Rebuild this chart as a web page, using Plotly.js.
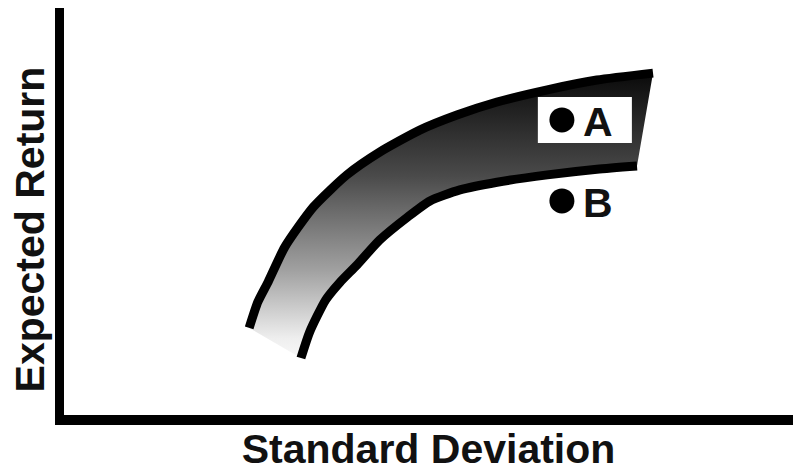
<!DOCTYPE html>
<html>
<head>
<meta charset="utf-8">
<script src="https://cdn.plot.ly/plotly-3.0.1.min.js"></script>
<style>html,body{margin:0;padding:0;background:#fff;}#chart{width:793px;height:472px;}</style>
</head>
<body>
<div id="chart"></div>
<script>
// Upper boundary of the band (standard deviation, expected return), arbitrary 0-100 units
const upperX = [25.4, 26.6, 28.0, 30.3, 34.2, 38.8, 43.3, 48.8, 53.9, 59.4, 66.3, 73.1, 80.8];
const upperY = [21.4, 27.8, 32.7, 41.3, 51.1, 59.0, 64.6, 70.0, 73.7, 76.9, 79.9, 82.3, 84.0];
// Lower boundary of the band
const lowerX = [32.5, 33.7, 35.9, 37.9, 40.2, 43.3, 47.1, 50.2, 54.3, 59.4, 66.3, 73.1, 78.6];
const lowerY = [14.0, 20.4, 28.3, 32.7, 36.9, 43.0, 48.6, 52.6, 55.3, 57.2, 59.0, 60.4, 61.2];
// Portfolios
const pointNames = ['A', 'B'];
const pointX = [68.3, 68.3];
const pointY = [72.5, 52.6];
const xTitle = 'Standard Deviation';
const yTitle = 'Expected Return';

const FONT = 'Liberation Sans, Arial, Helvetica, sans-serif';

// band polygon: upper left->right, lower right->left
const bandX = upperX.concat(lowerX.slice().reverse());
const bandY = upperY.concat(lowerY.slice().reverse());

// white label box behind point A
const bx0 = pointX[0] - 3.3, bx1 = pointX[0] + 9.6;
const by0 = pointY[0] - 5.65, by1 = pointY[0] + 5.65;

const traces = [
  {
    x: bandX, y: bandY, type: 'scatter', mode: 'none', fill: 'toself',
    fillgradient: {
      type: 'vertical',
      colorscale: [
        [0, '#f8f8f8'], [0.07, '#eeeeee'], [0.31, '#a0a0a0'], [0.52, '#6a6a6a'],
        [0.64, '#4a4a4a'], [0.91, '#1a1a1a'], [1, '#0a0a0a']
      ]
    },
    hoverinfo: 'skip', showlegend: false
  },
  {
    x: upperX, y: upperY, type: 'scatter', mode: 'lines',
    line: {color: '#000', width: 9, shape: 'spline', smoothing: 0.6},
    hoverinfo: 'skip', showlegend: false
  },
  {
    x: lowerX, y: lowerY, type: 'scatter', mode: 'lines',
    line: {color: '#000', width: 9, shape: 'spline', smoothing: 0.6},
    hoverinfo: 'skip', showlegend: false
  },
  {
    x: [bx0, bx1, bx1, bx0, bx0], y: [by0, by0, by1, by1, by0],
    type: 'scatter', mode: 'none', fill: 'toself', fillcolor: '#ffffff',
    hoverinfo: 'skip', showlegend: false
  },
  {
    x: pointX, y: pointY, type: 'scatter', mode: 'markers',
    marker: {color: '#000', size: 25, line: {width: 0}},
    hoverinfo: 'skip', showlegend: false
  }
];

const annotations = pointNames.map((n, i) => ({
  x: pointX[i], y: pointY[i], xref: 'x', yref: 'y',
  text: '<b>' + n + '</b>', showarrow: false,
  xanchor: 'left', yanchor: 'middle', xshift: 19, yshift: -2,
  font: {family: FONT, size: 41, color: '#111'}
}));

// y-axis title (placed as rotated text left of the axis)
annotations.push({
  xref: 'paper', yref: 'paper', x: -0.046, y: 0.457,
  xanchor: 'center', yanchor: 'middle', textangle: -90,
  text: '<b>' + yTitle + '</b>', showarrow: false,
  font: {family: FONT, size: 41, color: '#111'}
});

const layout = {
  width: 793, height: 472,
  margin: {l: 64, r: 0, t: 8, b: 57, pad: 0},
  paper_bgcolor: '#fff', plot_bgcolor: '#fff',
  showlegend: false,
  xaxis: {
    range: [0, 100], showgrid: false, zeroline: false, showticklabels: false, ticks: '',
    showline: true, linewidth: 10, linecolor: '#000', fixedrange: true,
    title: {text: '<b>' + xTitle + '</b>', font: {family: FONT, size: 41, color: '#111'}, standoff: 18}
  },
  yaxis: {
    range: [0, 100], showgrid: false, zeroline: false, showticklabels: false, ticks: '',
    showline: true, linewidth: 9, linecolor: '#000', fixedrange: true
  },
  annotations: annotations
};

Plotly.newPlot('chart', traces, layout, {staticPlot: true, displayModeBar: false});
</script>
</body>
</html>
